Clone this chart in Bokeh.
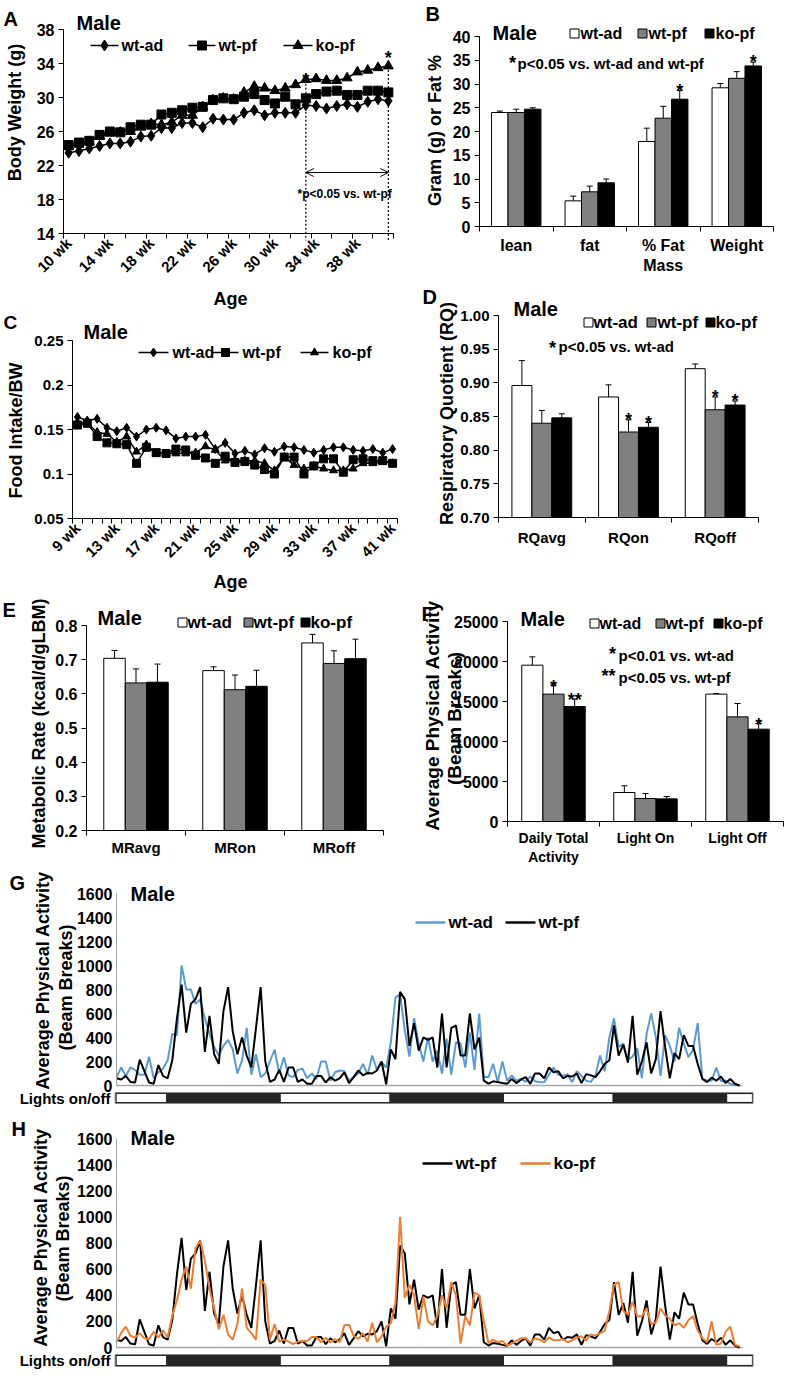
import math
from bokeh.plotting import figure
from bokeh.models import Range1d, FixedTicker, Label, Arrow, OpenHead, LinearAxis
from bokeh.layouts import column, row
from bokeh.embed import file_html
from bokeh.resources import INLINE

FONT = "Liberation Sans"

# ---------------- DATA ----------------
# A: body weight (g), weeks 10..41
A_ticks_idx = [0, 4, 8, 12, 16, 20, 24, 28]
A_tick_labels = ["10 wk", "14 wk", "18 wk", "22 wk", "26 wk", "30 wk", "34 wk", "38 wk"]
bw_wt_ad = [23.5, 23.7, 24.0, 24.3, 24.6, 24.6, 24.8, 25.4, 25.5, 26.4, 26.4, 27.0, 27.0, 26.5, 27.5, 27.4,
            27.4, 28.2, 28.5, 27.9, 28.2, 28.2, 28.2, 29.1, 29.0, 28.7, 29.0, 29.2, 28.9, 29.5, 29.8, 29.6]
bw_wt_pf = [24.4, 24.7, 24.9, 25.6, 26.0, 25.9, 26.5, 26.8, 26.8, 28.0, 28.2, 28.5, 28.8, 28.9, 29.7, 29.9,
            29.8, 30.1, 30.4, 29.7, 29.3, 30.1, 29.2, 29.9, 30.4, 30.7, 30.8, 30.3, 30.3, 30.8, 30.8, 30.6]
bw_ko_pf = [24.2, 24.5, 24.8, 25.4, 25.8, 25.9, 26.0, 26.5, 26.9, 26.8, 27.1, 27.9, 27.9, 28.9, 29.7, 29.9,
            29.8, 30.6, 31.3, 31.1, 30.8, 31.1, 31.5, 32.1, 32.2, 32.0, 32.0, 32.3, 33.0, 33.2, 33.5, 33.7]

# C: food intake / BW, weeks 9..41
C_ticks_idx = [0, 4, 8, 12, 16, 20, 24, 28, 32]
C_tick_labels = ["9 wk", "13 wk", "17 wk", "21 wk", "25 wk", "29 wk", "33 wk", "37 wk", "41 wk"]
fi_wt_ad = [0.164, 0.160, 0.162, 0.152, 0.148, 0.152, 0.142, 0.150, 0.152, 0.149, 0.140, 0.142, 0.142,
            0.144, 0.128, 0.135, 0.123, 0.126, 0.122, 0.129, 0.125, 0.131, 0.130, 0.127, 0.124, 0.127,
            0.130, 0.130, 0.127, 0.126, 0.128, 0.124, 0.128]
fi_wt_pf = [0.155, 0.157, 0.142, 0.135, 0.134, 0.133, 0.112, 0.130, 0.124, 0.123, 0.128, 0.127, 0.121,
            0.118, 0.112, 0.120, 0.113, 0.114, 0.110, 0.105, 0.100, 0.119, 0.119, 0.100, 0.109, 0.117,
            0.117, 0.102, 0.116, 0.117, 0.115, 0.115, 0.112]
fi_ko_pf = [0.158, 0.157, 0.147, 0.145, 0.136, 0.142, 0.125, 0.133, 0.123, 0.123, 0.123, 0.123, 0.124,
            0.131, 0.127, 0.115, 0.115, 0.115, 0.115, 0.112, 0.104, 0.119, 0.110, 0.106, 0.109, 0.106,
            0.104, 0.104, 0.106, 0.112, 0.112, 0.114, 0.112]

groups = ["wt-ad", "wt-pf", "ko-pf"]

# B: body composition
B_cats = ["lean", "fat", "% Fat\nMass", "Weight"]
B_wt_ad = [24.0, 5.4, 17.9, 29.2]
B_wt_pf = [24.0, 7.3, 22.8, 31.2]
B_ko_pf = [24.7, 9.2, 26.8, 33.8]
B_err_wt_ad = [0.3, 1.0, 2.8, 0.9]
B_err_wt_pf = [0.7, 1.2, 2.5, 1.4]
B_err_ko_pf = [0.3, 0.8, 1.8, 0.8]

# D: respiratory quotient
D_cats = ["RQavg", "RQon", "RQoff"]
D_wt_ad = [0.896, 0.879, 0.921]
D_wt_pf = [0.840, 0.827, 0.860]
D_ko_pf = [0.848, 0.834, 0.867]
D_err_wt_ad = [0.037, 0.018, 0.007]
D_err_wt_pf = [0.019, 0.018, 0.019]
D_err_ko_pf = [0.006, 0.007, 0.006]

# E: metabolic rate
E_cats = ["MRavg", "MRon", "MRoff"]
E_wt_ad = [0.704, 0.668, 0.749]
E_wt_pf = [0.632, 0.612, 0.689]
E_ko_pf = [0.634, 0.622, 0.703]
E_err_wt_ad = [0.023, 0.011, 0.025]
E_err_wt_pf = [0.041, 0.043, 0.037]
E_err_ko_pf = [0.053, 0.047, 0.057]

# F: physical activity
F_cats = ["Daily Total\nActivity", "Light On", "Light Off"]
F_wt_ad = [19540, 3625, 15920]
F_wt_pf = [15920, 2875, 13080]
F_ko_pf = [14375, 2830, 11540]
F_err_wt_ad = [1040, 835, 80]
F_err_wt_pf = [1160, 625, 1670]
F_err_ko_pf = [915, 295, 710]

# G/H: activity time course, one value every 0.5 h
act_wt_ad = [70, 150, 80, 150, 130, 90, 90, 240, 60, 110,
             140, 210, 430, 420, 1000, 800, 800, 680, 720, 560,
             430, 320, 250, 330, 380, 300, 100, 210, 480, 90,
             260, 70, 100, 200, 300, 100, 236, 83, 70, 130,
             140, 60, 100, 55, 200, 200, 40, 110, 125, 120,
             40, 70, 100, 180, 90, 250, 130, 195, 150, 360,
             735, 760, 460, 240, 560, 350, 200, 400, 200, 290,
             100, 390, 90, 360, 350, 150, 440, 130, 600, 70,
             70, 180, 30, 200, 40, 83, 40, 55, 30, 75,
             35, 28, 28, 90, 150, 90, 80, 95, 28, 120,
             80, 40, 30, 80, 250, 120, 400, 560, 320, 350,
             215, 240, 310, 60, 430, 600, 400, 80, 420, 330,
             200, 480, 350, 236, 300, 520, 60, 40, 40, 150,
             35, 40, 14, 5, 0]
act_wt_pf = [60, 50, 80, 30, 25, 215, 120, 25, 15, 170,
             80, 60, 210, 560, 840, 440, 680, 720, 820, 280,
             580, 260, 180, 620, 820, 450, 260, 400, 250, 150,
             480, 820, 200, 30, 50, 130, 30, 150, 150, 30,
             50, 15, 15, 80, 80, 25, 70, 40, 60, 110,
             20, 70, 125, 85, 105, 100, 125, 200, 10, 300,
             220, 780, 720, 330, 520, 290, 400, 380, 400, 150,
             600, 150, 480, 500, 250, 250, 600, 300, 400, 40,
             15, 35, 28, 20, 14, 55, 20, 50, 70, 14,
             100, 100, 60, 150, 110, 120, 60, 80, 75, 100,
             20, 95, 85, 70, 120, 180, 210, 500, 250, 340,
             190, 580, 90, 200, 360, 100, 220, 620, 320, 60,
             270, 220, 420, 330, 330, 180, 55, 28, 65, 40,
             75, 20, 55, 15, 0]
act_ko_pf = [40, 110, 160, 90, 75, 110, 70, 64, 120, 77,
             130, 77, 245, 360, 520, 620, 450, 760, 820, 665,
             450, 300, 140, 250, 100, 60, 180, 450, 150, 110,
             60, 520, 480, 60, 180, 45, 60, 45, 25, 45,
             50, 50, 80, 80, 40, 75, 38, 64, 40, 170,
             175, 90, 65, 110, 45, 190, 40, 85, 160, 185,
             345, 1000, 380, 480, 400, 140, 390, 200, 170, 240,
             400, 300, 500, 400, 30, 240, 170, 420, 400, 200,
             35, 60, 40, 50, 15, 30, 50, 70, 70, 38,
             70, 60, 40, 77, 55, 55, 64, 40, 55, 75,
             85, 55, 100, 90, 110, 130, 280, 480, 500, 280,
             250, 350, 240, 240, 300, 180, 190, 300, 245, 220,
             170, 185, 150, 210, 240, 130, 70, 40, 200, 20,
             30, 120, 160, 20, 10]
hours = [i * 0.5 for i in range(len(act_wt_pf))]
lights_on_start = [0.0, 17.5, 41.5, 65.5]
lights_on_end = [5.5, 29.5, 53.5, 68.5]

BLUE = "#5B9BD5"
ORANGE = "#ED7D31"
GRAY = "#808080"


# ---------------- helpers ----------------
class Frame:
    """Maps reference-pixel positions of a panel's axes box to data units."""

    def __init__(s, L, R, T, B, xr, yr):
        s.L, s.R, s.T, s.B, s.xr, s.yr = L, R, T, B, xr, yr

    def X(s, px):
        return s.xr[0] + (px - s.L) / (s.R - s.L) * (s.xr[1] - s.xr[0])

    def Y(s, py):
        return s.yr[1] - (py - s.T) / (s.B - s.T) * (s.yr[1] - s.yr[0])

    def px(s, x):
        return s.L + (x - s.xr[0]) / (s.xr[1] - s.xr[0]) * (s.R - s.L)

    def py(s, y):
        return s.T + (s.yr[1] - y) / (s.yr[1] - s.yr[0]) * (s.B - s.T)


def make_panel(x0, y0, w, h, L, R, T, B, xr, yr):
    fr = Frame(L, R, T, B, xr, yr)
    p = figure(width=w, height=h,
               x_range=Range1d(fr.X(x0), fr.X(x0 + w)),
               y_range=Range1d(fr.Y(y0 + h), fr.Y(y0)),
               x_axis_location=None, y_axis_location=None,
               output_backend="svg", toolbar_location=None, min_border=0)
    p.grid.visible = False
    p.outline_line_color = None
    p.background_fill_color = "white"
    p.border_fill_color = "white"
    return p, fr


def style_axis(ax, tick_size=15, color="black"):
    ax.major_label_text_font = FONT
    ax.major_label_text_font_style = "bold"
    ax.major_label_text_font_size = f"{tick_size}px"
    ax.major_label_text_color = "black"
    ax.axis_line_color = color
    ax.axis_line_width = 1
    ax.major_tick_line_color = color
    ax.minor_tick_line_color = color
    ax.major_tick_in = 0
    ax.minor_tick_in = 0
    ax.minor_tick_out = 0


def text(p, x, y, s, size, align="left", baseline="middle", color="black", angle=0.0):
    p.add_layout(Label(x=x, y=y, text=s, text_font=FONT, text_font_size=f"{size}px",
                       text_font_style="bold", text_color=color, text_align=align,
                       text_baseline=baseline, angle=angle))


def ptext(p, fr, px, py, s, size, align="left"):
    text(p, fr.X(px), fr.Y(py), s, size, align=align)


def vtext(p, fr, px, py, s, size):
    text(p, fr.X(px), fr.Y(py), s, size, align="center", angle=math.pi / 2)


def star(p, fr, x, cy, s="*", size=18):
    text(p, x, fr.Y(cy + 0.57 * size), s, size, align="center", baseline="alphabetic")


def add_y(p, fr, ticks, tick_size=15, color="black", tick_out=5, overrides=None):
    ax = LinearAxis(fixed_location=fr.xr[0], bounds=(fr.yr[0], fr.yr[1]))
    style_axis(ax, tick_size, color)
    ax.ticker = FixedTicker(ticks=ticks)
    ax.major_tick_out = tick_out
    ax.major_label_standoff = 4
    if overrides:
        ax.major_label_overrides = overrides
    p.add_layout(ax, "left")
    return ax


def add_x(p, fr, ticks, minor, labels, tick_size, standoff, orientation=None):
    ax = LinearAxis(fixed_location=fr.yr[0], bounds=(fr.xr[0], fr.xr[1]))
    style_axis(ax, tick_size)
    ax.ticker = FixedTicker(ticks=ticks, minor_ticks=minor)
    ax.major_label_overrides = {t: l for t, l in zip(ticks, labels)}
    ax.major_tick_out = 0
    ax.minor_tick_out = 5
    ax.major_label_standoff = standoff
    if orientation is not None:
        ax.major_label_orientation = orientation
    p.add_layout(ax, "below")
    return ax


def bar_panel(p, fr, cats, vals, errs, bw, bottom, cap_px=3, label_size=16, label_standoff=10):
    fills = ["white", GRAY, "black"]
    n = len(cats)
    capw = cap_px / (fr.R - fr.L) * (fr.xr[1] - fr.xr[0])
    for k in range(3):
        xs = [g + (k - 1) * bw for g in range(n)]
        tops = [v + e for v, e in zip(vals[k], errs[k])]
        p.segment(x0=xs, y0=vals[k], x1=xs, y1=tops, line_color="black", line_width=1)
        p.segment(x0=[x - capw for x in xs], y0=tops, x1=[x + capw for x in xs], y1=tops,
                  line_color="black", line_width=1)
        p.vbar(x=xs, top=vals[k], bottom=bottom, width=bw, fill_color=fills[k],
               line_color="black", line_width=1)
    add_x(p, fr, list(range(n)), [g - 0.5 for g in range(n + 1)], cats, label_size, label_standoff)


def bar_legend(p, fr, sq_px, text_px, y_px, size=16):
    fills = ["white", GRAY, "black"]
    for k in range(3):
        p.scatter([fr.X(sq_px[k])], [fr.Y(y_px)], marker="square", size=9,
                  fill_color=fills[k], line_color="black", line_width=1)
        ptext(p, fr, text_px[k], y_px, groups[k], size)


# ---------------- A ----------------
pA, fA = make_panel(0, 0, 400, 310, 63, 393, 29, 233, (-0.5, 31.5), (14, 38))
xA = list(range(len(bw_wt_ad)))
for idx in [23, 31]:
    pA.line([idx, idx], [bw_ko_pf[idx], fA.Y(240)], line_color="black", line_width=1.2, line_dash="2 2")
for ys, mk, sz in [(bw_wt_ad, "diamond", 11), (bw_wt_pf, "square", 9), (bw_ko_pf, "triangle", 10)]:
    pA.line(xA, ys, line_color="black", line_width=1.5)
    pA.scatter(xA, ys, marker=mk, size=sz, fill_color="black", line_color="black")
add_y(pA, fA, [14, 18, 22, 26, 30, 34, 38], tick_size=16)
add_x(pA, fA, A_ticks_idx, [i - 0.5 for i in range(0, 33, 2)], A_tick_labels, 15, 2, math.pi / 4)
vtext(pA, fA, 14, 112, "Body Weight (g)", 18)
ptext(pA, fA, 230, 298, "Age", 18, align="center")
for (a, b, mk, sz, tx, lab) in [(90, 118, "diamond", 11, 121, "wt-ad"), (188, 215, "square", 9, 218, "wt-pf"),
                                (283, 312, "triangle", 10, 315, "ko-pf")]:
    pA.line([fA.X(a), fA.X(b)], [fA.Y(45), fA.Y(45)], line_color="black", line_width=1.5)
    pA.scatter([fA.X((a + b) / 2)], [fA.Y(45)], marker=mk, size=sz, fill_color="black", line_color="black")
    ptext(pA, fA, tx, 45, lab, 16)
ptext(pA, fA, 76, 22, "Male", 20)
ptext(pA, fA, 3, 18, "A", 20)
for idx, gap in [(23, 10), (31, 18)]:
    star(pA, fA, idx, fA.py(bw_ko_pf[idx]) - gap)
pA.add_layout(Arrow(start=OpenHead(size=8, line_width=1), end=OpenHead(size=8, line_width=1),
                    x_start=23, y_start=fA.Y(172), x_end=31, y_end=fA.Y(172), line_width=1))
ptext(pA, fA, 297, 193, "*p<0.05 vs. wt-pf", 12)

# ---------------- C ----------------
pC, fC = make_panel(0, 310, 400, 284, 72, 397, 340, 518, (-0.5, 32.5), (0.05, 0.25))
xC = list(range(len(fi_wt_ad)))
for ys, mk, sz in [(fi_wt_ad, "diamond", 9), (fi_wt_pf, "square", 8), (fi_ko_pf, "triangle", 8)]:
    pC.line(xC, ys, line_color="black", line_width=1.5)
    pC.scatter(xC, ys, marker=mk, size=sz, fill_color="black", line_color="black")
add_y(pC, fC, [0.05, 0.1, 0.15, 0.2, 0.25], tick_size=15,
      overrides={0.05: "0.05", 0.1: "0.1", 0.15: "0.15", 0.2: "0.2", 0.25: "0.25"})
add_x(pC, fC, C_ticks_idx, [i - 0.5 for i in range(0, 34)], C_tick_labels, 15, 2, math.pi / 4)
vtext(pC, fC, 15, 430, "Food Intake/BW", 18)
ptext(pC, fC, 230, 581, "Age", 18, align="center")
for (a, b, mk, sz, tx, lab) in [(138, 168, "diamond", 9, 172, "wt-ad"), (212, 238, "square", 8, 242, "wt-pf"),
                                (300, 328, "triangle", 8, 332, "ko-pf")]:
    pC.line([fC.X(a), fC.X(b)], [fC.Y(352), fC.Y(352)], line_color="black", line_width=1.5)
    pC.scatter([fC.X((a + b) / 2)], [fC.Y(352)], marker=mk, size=sz, fill_color="black", line_color="black")
    ptext(pC, fC, tx, 352, lab, 16)
ptext(pC, fC, 83, 331, "Male", 20)
ptext(pC, fC, 3, 322, "C", 19)

# ---------------- E ----------------
pE, fE = make_panel(0, 594, 400, 273, 86, 383, 625, 830, (-0.5, 2.5), (0.2, 0.8))
bar_panel(pE, fE, E_cats, [E_wt_ad, E_wt_pf, E_ko_pf], [E_err_wt_ad, E_err_wt_pf, E_err_ko_pf],
          0.217, 0.2, label_size=15, label_standoff=3)
add_y(pE, fE, [0.2, 0.3, 0.4, 0.5, 0.6, 0.7, 0.8], tick_size=16)
vtext(pE, fE, 38, 723, "Metabolic Rate (kcal/d/gLBM)", 18)
bar_legend(pE, fE, [182, 248, 305], [187, 253, 310], 622, size=17)
ptext(pE, fE, 97, 617, "Male", 20)
ptext(pE, fE, 2, 609, "E", 20)

# ---------------- B ----------------
pB, fB = make_panel(400, 0, 384, 280, 479, 773, 36, 226, (-0.5, 3.5), (0, 40))
bar_panel(pB, fB, B_cats, [B_wt_ad, B_wt_pf, B_ko_pf], [B_err_wt_ad, B_err_wt_pf, B_err_ko_pf],
          0.224, 0, label_size=16, label_standoff=5)
add_y(pB, fB, [0, 5, 10, 15, 20, 25, 30, 35, 40], tick_size=16)
vtext(pB, fB, 434, 130, "Gram (g) or Fat %", 18)
bar_legend(pB, fB, [574, 642, 709], [580, 648, 715], 33)
ptext(pB, fB, 492, 32, "Male", 20)
ptext(pB, fB, 425, 13, "B", 20)
star(pB, fB, fB.X(512), 52)
ptext(pB, fB, 517, 63, "p<0.05 vs. wt-ad and wt-pf", 15)
for g in [2, 3]:
    star(pB, fB, g + 0.224, fB.py(B_ko_pf[g] + B_err_ko_pf[g]) - 10)

# ---------------- D ----------------
pD, fD = make_panel(400, 280, 384, 295, 498, 758, 315, 517, (-0.5, 2.5), (0.7, 1.0))
bar_panel(pD, fD, D_cats, [D_wt_ad, D_wt_pf, D_ko_pf], [D_err_wt_ad, D_err_wt_pf, D_err_ko_pf],
          0.23, 0.7, label_size=15, label_standoff=6)
add_y(pD, fD, [0.70, 0.75, 0.80, 0.85, 0.90, 0.95, 1.00], tick_size=15,
      overrides={0.7: "0.70", 0.75: "0.75", 0.8: "0.80", 0.85: "0.85", 0.9: "0.90", 0.95: "0.95", 1.0: "1.00"})
vtext(pD, fD, 446, 413, "Respiratory Quotient (RQ)", 18)
bar_legend(pD, fD, [588, 651, 710], [593, 657, 715], 322, size=17)
ptext(pD, fD, 513, 308, "Male", 20)
ptext(pD, fD, 422, 296, "D", 20)
star(pD, fD, fD.X(552), 337)
ptext(pD, fD, 558, 346, "p<0.05 vs. wt-ad", 15)
for g in [1, 2]:
    star(pD, fD, g, fD.py(D_wt_pf[g] + D_err_wt_pf[g]) - 10)
    star(pD, fD, g + 0.23, fD.py(D_ko_pf[g] + D_err_ko_pf[g]) - 10)

# ---------------- F ----------------
pF, fF = make_panel(400, 575, 384, 292, 507, 783, 621, 821, (-0.5, 2.5), (0, 25000))
bar_panel(pF, fF, F_cats, [F_wt_ad, F_wt_pf, F_ko_pf], [F_err_wt_ad, F_err_wt_pf, F_err_ko_pf],
          0.23, 0, label_size=14, label_standoff=3)
add_y(pF, fF, [0, 5000, 10000, 15000, 20000, 25000], tick_size=16)
vtext(pF, fF, 432, 715, "Average Physical Activity", 19)
vtext(pF, fF, 454, 718, "(Beam Breaks)", 19)
bar_legend(pF, fF, [594, 660, 718], [599, 665, 723], 623)
ptext(pF, fF, 520, 618, "Male", 20)
ptext(pF, fF, 421, 613, "F", 20)
star(pF, fF, fF.X(612), 643)
ptext(pF, fF, 618, 655, "p<0.01 vs. wt-ad", 15)
star(pF, fF, fF.X(608), 665, s="**")
ptext(pF, fF, 618, 677, "p<0.05 vs. wt-pf", 15)
star(pF, fF, 0, fF.py(F_wt_pf[0] + F_err_wt_pf[0]) - 8)
star(pF, fF, 0.23, fF.py(F_ko_pf[0] + F_err_ko_pf[0]) - 9, s="**")
star(pF, fF, 2.23, fF.py(F_ko_pf[2] + F_err_ko_pf[2]) - 9)


# ---------------- G / H ----------------
def activity_panel(y0, h, T, B, zero_px, bar_top, bar_bot, series, colors):
    per_px = 1600.0 / (zero_px - T)
    yr = (-(B - zero_px) * per_px, 1600)
    p, fr = make_panel(0, y0, 784, h, 116, 753, T, B, (0, 68.5), yr)
    fr.yr = (0, 1600)
    fr.T, fr.B = T, zero_px
    add_y(p, fr, [0, 200, 400, 600, 800, 1000, 1200, 1400, 1600], tick_size=16, color="#a6a6a6", tick_out=0)
    # lights on/off bar
    yb, yt = fr.Y(bar_bot), fr.Y(bar_top)
    p.quad(left=[-0.15], right=[68.45], bottom=[yb], top=[yt], fill_color="#262626",
           line_color="#8c8c8c", line_width=1)
    dx = 1.6 / 9.3
    n = len(lights_on_start)
    p.quad(left=[s + dx - (0.15 if s == 0 else 0) for s in lights_on_start],
           right=[e - dx for e in lights_on_end],
           bottom=[fr.Y(bar_bot - 1.6)] * n, top=[fr.Y(bar_top + 1.6)] * n,
           fill_color="white", line_color=None)
    ptext(p, fr, 110, (bar_top + bar_bot) / 2, "Lights on/off", 15, align="right")
    p.segment(x0=[0], y0=[0], x1=[67.3], y1=[0], line_color="#a6a6a6", line_width=1.5)
    for ys, c in zip(series, colors):
        p.line(hours, ys, line_color=c, line_width=2)
    return p, fr


pG, fG = activity_panel(867, 246, 893, 1113, 1085, 1092, 1103, [act_wt_ad, act_wt_pf], [BLUE, "black"])
for (a, b, tx, lab, c) in [(415, 445, 448, "wt-ad", BLUE), (505, 535, 538, "wt-pf", "black")]:
    pG.line([fG.X(a), fG.X(b)], [fG.Y(922), fG.Y(922)], line_color=c, line_width=2.5)
    ptext(pG, fG, tx, 922, lab, 17)
vtext(pG, fG, 42, 980, "Average Physical Activity", 18)
vtext(pG, fG, 65, 987, "(Beam Breaks)", 18)
ptext(pG, fG, 130, 893, "Male", 20)
ptext(pG, fG, 9, 882, "G", 20)

pH, fH = activity_panel(1113, 263, 1138, 1376, 1347, 1354, 1366, [act_wt_pf, act_ko_pf], ["black", ORANGE])
for (a, b, tx, lab, c) in [(422, 452, 455, "wt-pf", "black"), (520, 550, 553, "ko-pf", ORANGE)]:
    pH.line([fH.X(a), fH.X(b)], [fH.Y(1163), fH.Y(1163)], line_color=c, line_width=2.5)
    ptext(pH, fH, tx, 1163, lab, 17)
vtext(pH, fH, 40, 1237, "Average Physical Activity", 18)
vtext(pH, fH, 62, 1238, "(Beam Breaks)", 18)
ptext(pH, fH, 130, 1137, "Male", 20)
ptext(pH, fH, 11, 1128, "H", 20)

layout = column(row(column(pA, pC, pE), column(pB, pD, pF)), pG, pH)
open("out.html", "w").write(file_html(layout, INLINE))
